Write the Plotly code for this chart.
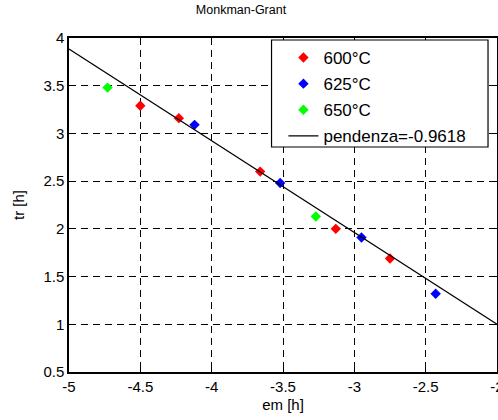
import plotly.graph_objects as go

# Monkman-Grant data: em [h] vs tr [h] for three test temperatures
em_600 = [-4.50, -4.23, -3.66, -3.13, -2.75]
tr_600 = [3.29, 3.16, 2.60, 2.00, 1.69]

em_625 = [-4.12, -3.52, -2.95, -2.43]
tr_625 = [3.09, 2.48, 1.91, 1.32]

em_650 = [-4.73, -3.27]
tr_650 = [3.48, 2.13]

# Linear fit
slope = -0.9618
intercept = -0.924
fit_x = [-5.0, -2.0]
fit_y = [slope * x + intercept for x in fit_x]

x_ticks = [-5, -4.5, -4, -3.5, -3, -2.5, -2]
x_labels = ["-5", "-4.5", "-4", "-3.5", "-3", "-2.5", "-2"]
y_ticks = [0.5, 1, 1.5, 2, 2.5, 3, 3.5, 4]
y_labels = ["0.5", "1", "1.5", "2", "2.5", "3", "3.5", "4"]

FAMILY = "Liberation Sans, Arial, sans-serif"
font = dict(family=FAMILY, size=15, color="black")

fig = go.Figure()
for name, xs, ys, col, grp in [
    ("600°C", em_600, tr_600, "#ff0000", "a"),
    ("625°C", em_625, tr_625, "#0000ff", "b"),
    ("650°C", em_650, tr_650, "#00ff00", "c"),
]:
    fig.add_trace(go.Scatter(
        x=xs, y=ys, mode="markers", name=name, legendgroup=grp,
        marker=dict(symbol="diamond", size=8, color=col, line=dict(width=0)),
    ))

fig.add_trace(go.Scatter(
    x=fit_x, y=fit_y, mode="lines", name="pendenza=-0.9618", legendgroup="d",
    line=dict(color="black", width=1.2),
))

axis_common = dict(
    showline=True, linecolor="black", linewidth=1.5, mirror="ticks",
    ticks="inside", ticklen=5, tickcolor="black",
    showgrid=True, gridcolor="black", griddash="7px,5px", gridwidth=1,
    zeroline=False, tickfont=font, ticklabeloverflow="allow", automargin=False,
)

fig.update_layout(
    width=498, height=420,
    margin=dict(l=69, r=1, t=38, b=48, autoexpand=False),
    paper_bgcolor="white", plot_bgcolor="white",
    font=font,
    title=dict(text="Monkman-Grant", x=241 / 498, xanchor="center", y=0.987, yanchor="top",
               font=dict(family=FAMILY, size=12.5, color="black")),
    showlegend=True,
    legend=dict(
        x=0.501, y=0.994, xanchor="left", yanchor="top",
        bgcolor="rgba(0,0,0,0)", borderwidth=0,
        font=dict(family=FAMILY, size=17, color="black"),
        tracegroupgap=1,
    ),
    # frame behind the legend entries
    shapes=[dict(type="rect", xref="paper", yref="paper",
                 x0=(272 - 69) / 429, x1=(489 - 69) / 429,
                 y0=(372 - 147) / 334, y1=(372 - 40) / 334,
                 fillcolor="white", line=dict(color="black", width=1.2), layer="above")],
    xaxis=dict(range=[-5, -2], tickvals=x_ticks, ticktext=x_labels,
               title=dict(text="em [h]", font=font, standoff=6), **axis_common),
    yaxis=dict(range=[0.5, 4], tickvals=y_ticks, ticktext=y_labels,
               title=dict(text="tr [h]", font=font, standoff=15), **axis_common),
)

fig.write_html("out.html")
